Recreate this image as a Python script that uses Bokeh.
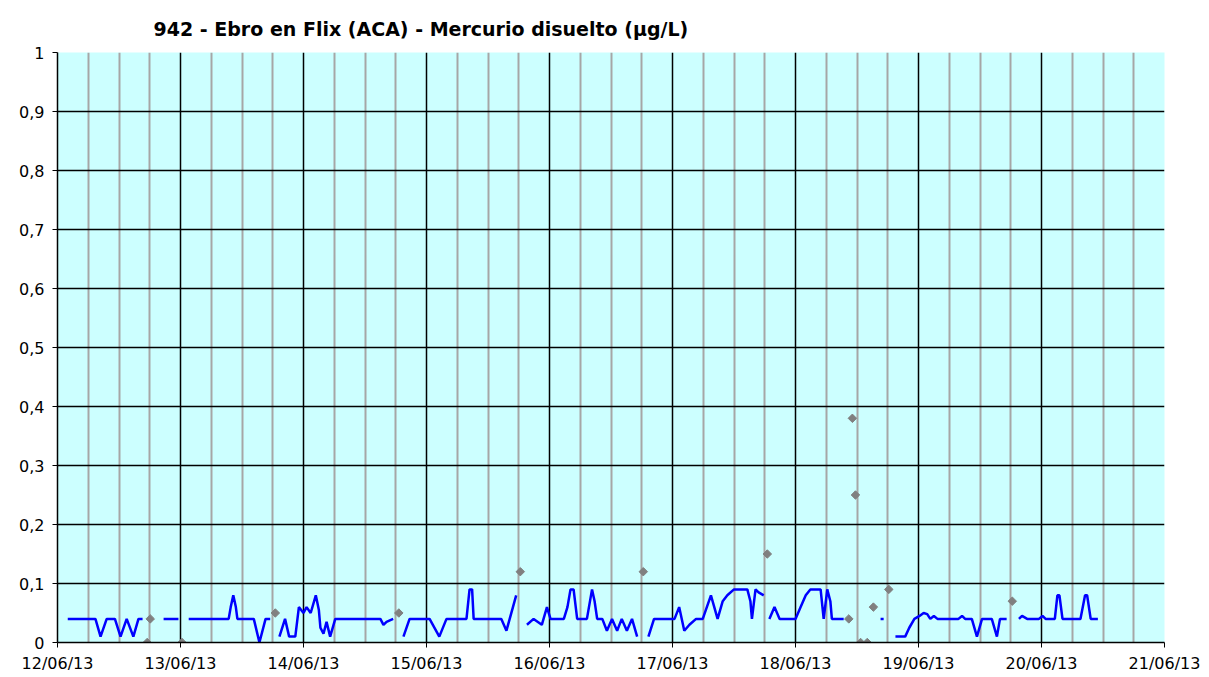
import math
from bokeh.plotting import figure
from bokeh.models import Range1d, FixedTicker, CustomJSTickFormatter
from bokeh.embed import file_html
from bokeh.resources import INLINE

# ---- data (hours since 12/06/13 00:00) ----
title_text = "942 - Ebro en Flix (ACA) - Mercurio disuelto (µg/L)"
day_labels = ["12/06/13", "13/06/13", "14/06/13", "15/06/13", "16/06/13",
              "17/06/13", "18/06/13", "19/06/13", "20/06/13", "21/06/13"]
y_ticks = [0, 0.1, 0.2, 0.3, 0.4, 0.5, 0.6, 0.7, 0.8, 0.9, 1]

# continuous analyser series (None = gap)
line_hours = [
    2, 7.4, 8.4, 9.6, 11.2, 12.3, 13.5, 14.8, 15.8, 16.6, None,
    20.7, 23.6, None,
    25.6, 33.4, 33.8, 34.3, 34.8, 35.1, 38.3, 39.4, 40.6, 41.5, None,
    43.3, 44.4, 45.2, 46.4, 47.1, 48, 48.6, 49.4, 50.4, 51, 51.3, 51.9, 52.5, 53.2, 54.2, 63, 63.6, 64.2, 65.5, None,
    67.5, 68.7, 72.6, 74.5, 75.9, 79.8, 80.4, 80.9, 81.2, 86.6, 87.6, 89.5, None,
    91.6, 92.9, 94.5, 95.5, 96.2, 98.8, 99.5, 100.1, 100.7, 101.4, 103.3, 104.3, 104.8, 105.3,
    106.3, 107.2, 108.2, 109.2, 110.1, 111.1, 112.1, 113.1, None,
    115.3, 116.4, 120.4, 121.3, 122.3, 123.3, 124.6, 125.9, 127.5, 128.8, 129.8, 130.7, 132, 134.6,
    135.2, 135.5, 136.2, 136.8, 137.8, None,
    138.9, 139.9, 140.9, 144, 145, 146, 146.9, 148.9, 149.5, 150.2, 150.8, 151.1, 153.4, None,
    160.6, 161.2, None,
    163.5, 165.4, 166.2, 167.2, 168.2, 169, 169.7, 170.3, 171, 171.7, 175.8, 176.5, 177.1, 178.4,
    179.4, 180.4, 182.3, 183.3, 183.9, 185.2, None,
    187.6, 188.2, 189.2, 191.5, 192.2, 192.8, 194.6, 195.1, 195.5, 196.1, 199.6, 200.5, 200.9, 201.6, 203,
]
line_values = [
    0.04, 0.04, 0.01, 0.04, 0.04, 0.01, 0.04, 0.01, 0.04, 0.04, None,
    0.04, 0.04, None,
    0.04, 0.04, 0.06, 0.08, 0.06, 0.04, 0.04, 0.0, 0.04, 0.04, None,
    0.01, 0.04, 0.01, 0.01, 0.06, 0.05, 0.06, 0.05, 0.08, 0.055, 0.025, 0.015, 0.035, 0.01, 0.04, 0.04, 0.03, 0.035, 0.04, None,
    0.01, 0.04, 0.04, 0.01, 0.04, 0.04, 0.09, 0.09, 0.04, 0.04, 0.02, 0.08, None,
    0.03, 0.04, 0.03, 0.06, 0.04, 0.04, 0.06, 0.09, 0.09, 0.04, 0.04, 0.09, 0.07, 0.04,
    0.04, 0.02, 0.04, 0.02, 0.04, 0.02, 0.04, 0.01, None,
    0.01, 0.04, 0.04, 0.06, 0.02, 0.03, 0.04, 0.04, 0.08, 0.04, 0.07, 0.08, 0.09, 0.09,
    0.07, 0.04, 0.09, 0.085, 0.08, None,
    0.04, 0.06, 0.04, 0.04, 0.06, 0.08, 0.09, 0.09, 0.04, 0.09, 0.07, 0.04, 0.04, None,
    0.04, 0.04, None,
    0.01, 0.01, 0.025, 0.04, 0.045, 0.05, 0.048, 0.04, 0.045, 0.04, 0.04, 0.045, 0.04, 0.04,
    0.01, 0.04, 0.04, 0.01, 0.04, 0.04, None,
    0.04, 0.045, 0.04, 0.04, 0.045, 0.04, 0.04, 0.08, 0.08, 0.04, 0.04, 0.08, 0.08, 0.04, 0.04,
]

# laboratory samples (grey diamonds)
sample_hours = [17.5, 18.1, 24.3, 42.5, 66.6, 90.3, 114.3, 138.5,
                154.4, 155.1, 155.7, 156.7, 158.0, 159.2, 162.2, 186.3]
sample_values = [0.0, 0.04, 0.0, 0.05, 0.05, 0.12, 0.12, 0.15,
                 0.04, 0.38, 0.25, 0.0, 0.0, 0.06, 0.09, 0.07]

# ---- figure ----
day_ticks = [24 * i for i in range(len(day_labels))]
quarter_ticks = [6 * i for i in range(4 * (len(day_labels) - 1) + 1) if (6 * i) % 24 != 0]

p = figure(frame_width=1107, frame_height=590, output_backend="svg", toolbar_location=None,
           x_range=Range1d(0, day_ticks[-1]), y_range=Range1d(0, 1),
           min_border_left=57, min_border_right=36, min_border_top=52, min_border_bottom=33)
p.background_fill_color = "#ccffff"
p.border_fill_color = "white"
p.outline_line_color = None

p.title.text = title_text
p.title.text_font = "DejaVu Sans"
p.title.text_font_size = "19px"
p.title.text_font_style = "bold"
p.title.text_color = "black"
p.title.align = "left"
p.title.offset = 96
p.title.standoff = 26

xt = FixedTicker(ticks=day_ticks, minor_ticks=quarter_ticks)
yt = FixedTicker(ticks=y_ticks)
p.xaxis.ticker = xt
p.yaxis.ticker = yt
p.xgrid.ticker = xt
p.ygrid.ticker = yt
p.xgrid.grid_line_color = "black"
p.xgrid.grid_line_width = 1.5
p.xgrid.minor_grid_line_color = "#a6a6a6"
p.xgrid.minor_grid_line_width = 2
p.ygrid.grid_line_color = "black"
p.ygrid.grid_line_width = 1.5

p.xaxis.major_label_overrides = {t: lab for t, lab in zip(day_ticks, day_labels)}
p.yaxis.formatter = CustomJSTickFormatter(
    code="return (Math.round(tick*10)/10).toString().replace('.', ',');")

for ax in (p.xaxis, p.yaxis):
    ax.axis_line_color = "black"
    ax.axis_line_width = 1.5
    ax.major_tick_line_color = "black"
    ax.major_tick_in = 0
    ax.major_tick_out = 5
    ax.minor_tick_line_color = None
    ax.major_label_text_font = "DejaVu Sans"
    ax.major_label_text_font_size = "16px"
    ax.major_label_text_color = "black"
p.xaxis.major_label_standoff = 6
p.yaxis.major_label_standoff = 8

lx = [float("nan") if v is None else v for v in line_hours]
ly = [float("nan") if v is None else v for v in line_values]
p.line(x=lx, y=ly, line_color="#0000ff", line_width=2.5)

p.scatter(x=sample_hours, y=sample_values, marker="square", angle=math.pi / 4, size=6,
          fill_color="#808080", line_color="#808080")

open("out.html", "w").write(file_html(p, INLINE))
